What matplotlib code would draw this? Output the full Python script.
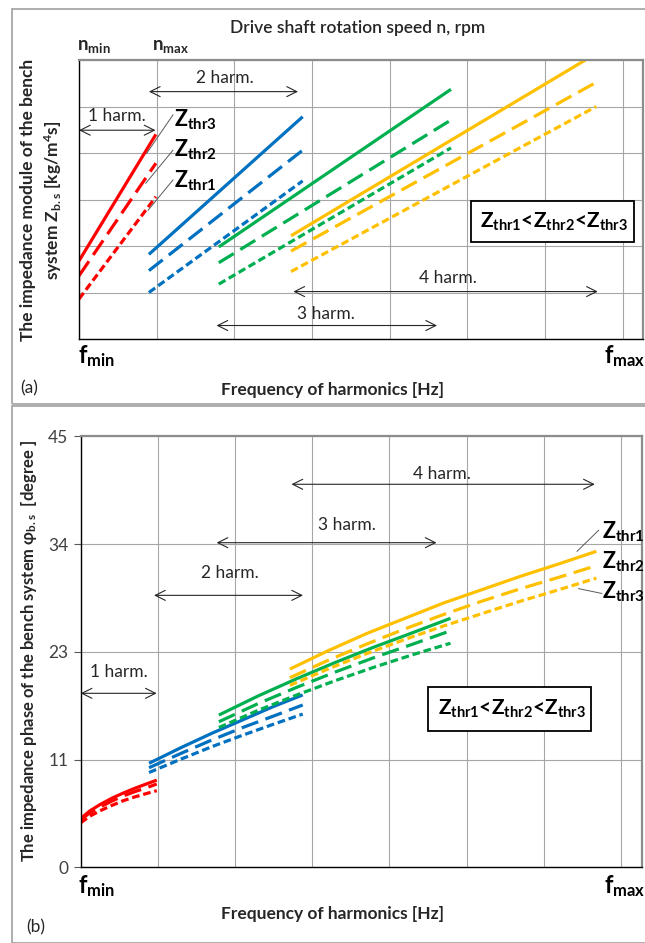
import matplotlib
matplotlib.use("Agg")
import matplotlib.pyplot as plt
from matplotlib.patches import Rectangle

plt.rcParams['font.family'] = ['Lato', 'DejaVu Sans']
plt.rcParams['mathtext.fontset'] = 'custom'
plt.rcParams['mathtext.rm'] = 'Lato'
plt.rcParams['mathtext.it'] = 'Lato:italic'
plt.rcParams['mathtext.bf'] = 'Lato:bold'

W, H = 645, 943

# ---------------- data: panel (a) impedance module (relative grid units) ----------------
a_red_x = [0.0, 0.99]
a_red_solid = [1.68, 4.40]
a_red_long = [1.36, 3.78]
a_red_short = [0.86, 3.06]

a_blue_x = [0.90, 2.88]
a_blue_solid = [1.82, 4.78]
a_blue_long = [1.47, 4.06]
a_blue_short = [1.00, 3.40]

a_green_x = [1.80, 4.79]
a_green_solid = [1.98, 5.37]
a_green_long = [1.64, 4.71]
a_green_short = [1.18, 4.11]

a_yel_solid_x = [2.73, 6.52]
a_yel_solid = [2.22, 6.00]
a_yel_x = [2.73, 6.66]
a_yel_long = [1.89, 5.52]
a_yel_short = [1.45, 5.00]

# ---------------- data: panel (b) impedance phase, degrees ----------------
b_red_x = [0.0, 0.12, 0.25, 0.4, 0.55, 0.7, 0.85, 0.985]
b_red_solid = [5.1, 5.9, 6.55, 7.2, 7.75, 8.25, 8.7, 9.1]
b_red_long = [4.95, 5.7, 6.3, 6.9, 7.45, 7.9, 8.3, 8.7]
b_red_short = [4.65, 5.35, 5.9, 6.45, 6.95, 7.35, 7.7, 8.0]

b_blue_x = [0.885, 1.3, 1.7, 2.1, 2.5, 2.876]
b_blue_solid = [10.86, 12.5, 14.0, 15.4, 16.8, 18.0]
b_blue_long = [10.4, 11.9, 13.3, 14.6, 15.8, 16.95]
b_blue_short = [9.9, 11.3, 12.6, 13.8, 14.95, 16.0]

b_green_x = [1.79, 2.3, 2.8, 3.3, 3.8, 4.3, 4.79]
b_green_solid = [15.9, 17.9, 19.7, 21.4, 23.0, 24.5, 26.0]
b_green_long = [15.2, 17.1, 18.8, 20.4, 21.9, 23.3, 24.7]
b_green_short = [14.6, 16.4, 18.0, 19.5, 20.9, 22.2, 23.4]

b_yel_x = [2.71, 3.2, 3.7, 4.2, 4.7, 5.2, 5.7, 6.2, 6.68]
b_yel_solid = [20.7, 22.6, 24.4, 26.0, 27.6, 29.0, 30.4, 31.7, 33.0]
b_yel_long = [19.8, 21.6, 23.3, 24.9, 26.4, 27.8, 29.1, 30.3, 31.5]
b_yel_short = [19.0, 20.7, 22.3, 23.8, 25.2, 26.5, 27.8, 29.0, 30.2]

b_yticks = [0, 11.25, 22.5, 33.75, 45]
b_yticklabels = ["0", "11", "23", "34", "45"]

RED, BLUE, GREEN, YEL = "#FF0000", "#0070C0", "#00B050", "#FFC000"
LW = 2.3
SOLID = dict(ls='-')
LONG = dict(dashes=(5.5, 2.4))
SHORT = dict(dashes=(2.4, 1.2))
GRID = "#A6A6A6"
TXT = "#262626"

fig = plt.figure(figsize=(W / 100, H / 100), dpi=100)


def fx(px):
    return px / W


def fy(py):
    return 1 - py / H


# panel frames
for (y0, y1) in [(9, 404), (406, 943)]:
    fig.add_artist(Rectangle((fx(12), fy(y1)), fx(660) - fx(12), fy(y0) - fy(y1),
                             transform=fig.transFigure, fill=False,
                             edgecolor="#A0A0A0", lw=1.2))


def style_axes(ax):
    for s in ['left', 'bottom']:
        ax.spines[s].set_color('black')
        ax.spines[s].set_linewidth(1.0)
    for s in ['top', 'right']:
        ax.spines[s].set_color('#8C8C8C')
        ax.spines[s].set_linewidth(1.6)
    ax.grid(True, color=GRID, lw=0.8)
    ax.set_axisbelow(True)


def harm_arrow(ax, x0, x1, y, label, tx, ty):
    ax.annotate('', xy=(x0, y), xytext=(x1, y),
                arrowprops=dict(arrowstyle='<->', color=TXT, lw=0.8,
                                mutation_scale=18, shrinkA=0, shrinkB=0))
    ax.text(tx, ty, label, ha='center', va='center', fontsize=12.5, color=TXT)


LEG = r"$\mathbf{Z_{thr1}}$<$\mathbf{Z_{thr2}}$<$\mathbf{Z_{thr3}}$"

# ---------------- panel (a) ----------------
axa = fig.add_axes([fx(79), fy(339), fx(642.7) - fx(79), fy(60) - fy(339)])
axa.set_xlim(0, 7.258)
axa.set_ylim(0, 6)
axa.set_xticks(range(0, 8))
axa.set_yticks(range(0, 7))
axa.tick_params(length=0, labelbottom=False, labelleft=False)
style_axes(axa)

for xs, ys, st, c in [
    (a_red_x, a_red_solid, SOLID, RED), (a_red_x, a_red_long, LONG, RED), (a_red_x, a_red_short, SHORT, RED),
    (a_blue_x, a_blue_solid, SOLID, BLUE), (a_blue_x, a_blue_long, LONG, BLUE), (a_blue_x, a_blue_short, SHORT, BLUE),
    (a_green_x, a_green_solid, SOLID, GREEN), (a_green_x, a_green_long, LONG, GREEN), (a_green_x, a_green_short, SHORT, GREEN),
    (a_yel_solid_x, a_yel_solid, SOLID, YEL), (a_yel_x, a_yel_long, LONG, YEL), (a_yel_x, a_yel_short, SHORT, YEL),
]:
    axa.plot(xs, ys, color=c, lw=LW, solid_capstyle='butt', dash_capstyle='butt', **st)

harm_arrow(axa, 0.0, 0.985, 4.49, "1 harm.", 0.49, 4.80)
harm_arrow(axa, 0.90, 2.82, 5.32, "2 harm.", 1.88, 5.61)
harm_arrow(axa, 1.77, 4.61, 0.29, "3 harm.", 3.18, 0.54)
harm_arrow(axa, 2.76, 6.68, 1.02, "4 harm.", 4.75, 1.32)

for lab, yb, (x0, y0, x1, y1) in [
    ("3", 4.57, (1.21, 4.82, 0.87, 3.99)),
    ("2", 3.92, (1.21, 4.06, 0.86, 3.35)),
    ("1", 3.26, (1.21, 3.42, 0.89, 2.77)),
]:
    axa.plot([x0, x1], [y0, y1], color='#595959', lw=0.7)
    axa.text(1.22, yb, r"$\mathbf{Z_{thr%s}}$" % lab, fontsize=15.5, va='baseline', ha='left', color='black')

axa.add_patch(Rectangle((5.05, 2.09), 2.10, 0.88, fill=True, facecolor='white', edgecolor='black', lw=1.3, zorder=5))
axa.text(6.12, 2.53, LEG, fontsize=15, fontweight='bold', ha='center', va='center', zorder=6)

# ---------------- panel (b) ----------------
axb = fig.add_axes([fx(80.7), fy(867.3), fx(642.3) - fx(80.7), fy(436.4) - fy(867.3)])
axb.set_xlim(0, 7.275)
axb.set_ylim(0, 45)
axb.set_xticks(range(0, 8))
axb.set_yticks(b_yticks)
axb.set_yticklabels(b_yticklabels)
axb.tick_params(axis='x', length=0, labelbottom=False)
axb.tick_params(axis='y', length=5, width=0.8, color='#595959', labelsize=12.5, labelcolor='#404040', pad=4)
style_axes(axb)

for xs, ys, st, c in [
    (b_red_x, b_red_solid, SOLID, RED), (b_red_x, b_red_long, LONG, RED), (b_red_x, b_red_short, SHORT, RED),
    (b_blue_x, b_blue_solid, SOLID, BLUE), (b_blue_x, b_blue_long, LONG, BLUE), (b_blue_x, b_blue_short, SHORT, BLUE),
    (b_green_x, b_green_solid, SOLID, GREEN), (b_green_x, b_green_long, LONG, GREEN), (b_green_x, b_green_short, SHORT, GREEN),
    (b_yel_x, b_yel_solid, SOLID, YEL), (b_yel_x, b_yel_long, LONG, YEL), (b_yel_x, b_yel_short, SHORT, YEL),
]:
    axb.plot(xs, ys, color=c, lw=LW, solid_capstyle='butt', dash_capstyle='butt', **st)

harm_arrow(axb, 0.0, 0.985, 18.17, "1 harm.", 0.49, 20.4)
harm_arrow(axb, 0.95, 2.88, 28.4, "2 harm.", 1.93, 30.7)
harm_arrow(axb, 1.76, 4.61, 33.9, "3 harm.", 3.45, 35.7)
harm_arrow(axb, 2.73, 6.66, 40.0, "4 harm.", 4.68, 41.1)

for lab, yb in [("1", 34.4), ("2", 31.2), ("3", 28.1)]:
    axb.text(6.75, yb, r"$\mathbf{Z_{thr%s}}$" % lab, fontsize=15.5, va='baseline', ha='left',
             color='black', clip_on=False)
axb.plot([6.71, 6.43], [35.2, 33.0], color='#595959', lw=0.7)
axb.plot([6.75, 6.45], [28.6, 29.1], color='#595959', lw=0.7)

axb.add_patch(Rectangle((4.50, 14.26), 2.11, 4.60, fill=True, facecolor='white', edgecolor='black', lw=1.3, zorder=5))
axb.text(5.58, 16.5, LEG, fontsize=15, fontweight='bold', ha='center', va='center', zorder=6)

# ---------------- figure texts ----------------
fig.text(fx(358), fy(28), "Drive shaft rotation speed n, rpm", ha='center', va='center', fontsize=12.5,
         fontweight='semibold', color=TXT)
fig.text(fx(77), fy(50), r"$\mathbf{n_{min}}$", ha='left', va='baseline', fontsize=13.5, color=TXT)
fig.text(fx(152), fy(50), r"$\mathbf{n_{max}}$", ha='left', va='baseline', fontsize=13.5, color=TXT)

fig.text(fx(28), fy(200), "The impedance module of the bench", rotation=90, ha='center', va='center',
         fontsize=12.5, fontweight='bold', color=TXT)
fig.text(fx(53), fy(200), r"system $\mathbf{Z_{b.s}}$ [kg/m$^\mathbf{4}$s]", rotation=90, ha='center', va='center',
         fontsize=12.5, fontweight='bold', color=TXT)

for ybase in (363, 893):
    fig.text(fx(78), fy(ybase), r"$\mathbf{f_{min}}$", ha='left', va='baseline', fontsize=17, color='black')
    fig.text(fx(604), fy(ybase), r"$\mathbf{f_{max}}$", ha='left', va='baseline', fontsize=17, color='black')

fig.text(fx(332), fy(390), "Frequency of harmonics [Hz]", ha='center', va='center', fontsize=12.5,
         fontweight='bold', color=TXT)
fig.text(fx(332), fy(914), "Frequency of harmonics [Hz]", ha='center', va='center', fontsize=12.5,
         fontweight='bold', color=TXT)

fig.text(fx(20), fy(388), "(a)", ha='left', va='center', fontsize=12.5, color=TXT)
fig.text(fx(26), fy(927), "(b)", ha='left', va='center', fontsize=12.5, color=TXT)

fig.text(fx(29), fy(651), r"The impedance phase of the bench system φ$_{\mathbf{b.s}}$  [degree ]",
         rotation=90, ha='center', va='center', fontsize=12, fontweight='bold', color=TXT)

fig.savefig("out.png", dpi=100)
